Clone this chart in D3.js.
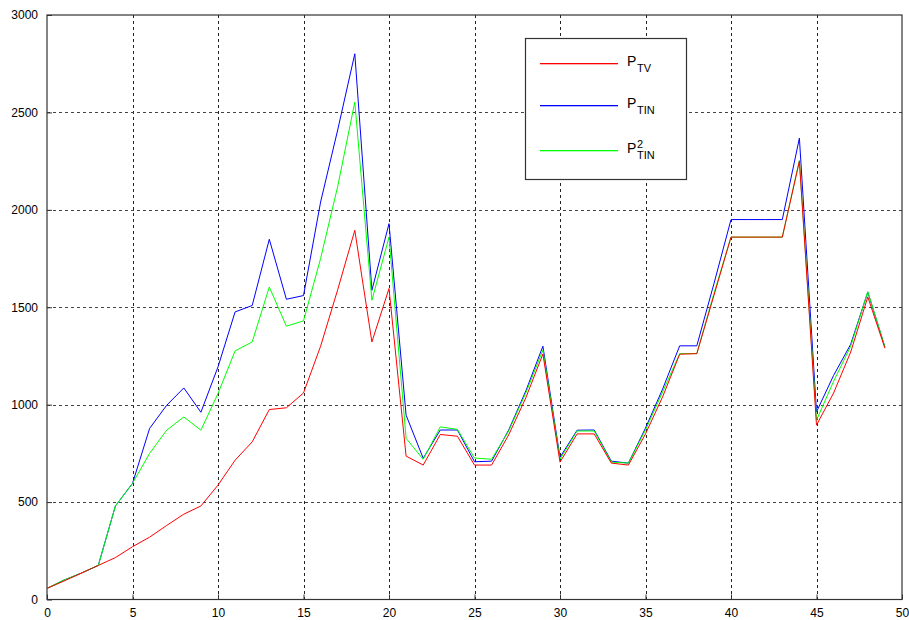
<!DOCTYPE html>
<html>
<head>
<meta charset="utf-8">
<script src="https://cdn.jsdelivr.net/npm/d3@7"></script>
<style>
  body { margin: 0; background: #fff; }
  svg text { font-family: Arial, "Liberation Sans", sans-serif; }
</style>
</head>
<body>
<svg id="chart"></svg>
<script>
// data, x = 0..49
var xs = d3.range(0, 50);
var pTV = [57, 95, 135, 175, 215, 271, 320, 380, 438, 480,
  587, 715, 809, 975, 984, 1060, 1300, 1590, 1895, 1322,
  1596, 736, 690, 847, 838, 690, 690, 845, 1035, 1260,
  705, 850, 850, 700, 690, 850, 1040, 1259, 1262, 1560,
  1860, 1860, 1860, 1860, 2250, 895, 1060, 1270, 1553, 1290];
var pTIN = [57, 100, 135, 175, 480, 596, 878, 997, 1086, 961,
  1194, 1476, 1509, 1849, 1541, 1560, 2040, 2410, 2801, 1587,
  1929, 946, 725, 870, 870, 707, 710, 870, 1070, 1300,
  730, 869, 870, 710, 700, 880, 1080, 1302, 1302, 1620,
  1950, 1950, 1950, 1950, 2368, 963, 1150, 1310, 1578, 1296];
var pTIN2 = [57, 100, 135, 175, 480, 596, 750, 869, 937, 869,
  1057, 1276, 1322, 1604, 1403, 1430, 1750, 2120, 2553, 1536,
  1860, 827, 720, 886, 873, 726, 720, 865, 1060, 1280,
  720, 865, 865, 705, 700, 870, 1065, 1262, 1262, 1570,
  1860, 1860, 1860, 1860, 2254, 920, 1120, 1300, 1580, 1296];
var xTicks = [0, 5, 10, 15, 20, 25, 30, 35, 40, 45, 50];
var yTicks = [0, 500, 1000, 1500, 2000, 2500, 3000];

var W = 909, H = 620;
var margin = { top: 15, right: 7, bottom: 20.5, left: 47 };
var width = W - margin.left - margin.right,
    height = H - margin.top - margin.bottom;

var svg = d3.select("#chart").attr("width", W).attr("height", H);
var g = svg.append("g").attr("transform", "translate(" + margin.left + "," + margin.top + ")");

var x = d3.scaleLinear().domain([0, 50]).range([0, width]);
var y = d3.scaleLinear().domain([0, 3000]).range([height, 0]);

// grid
g.selectAll(".vgrid").data(xTicks.slice(1, -1)).enter().append("line")
  .attr("x1", function(d) { return Math.round(x(d)) + 0.5; })
  .attr("x2", function(d) { return Math.round(x(d)) + 0.5; })
  .attr("y1", 0).attr("y2", height)
  .attr("stroke", "#222").attr("stroke-dasharray", "3,3");
g.selectAll(".hgrid").data(yTicks.slice(1, -1)).enter().append("line")
  .attr("y1", function(d) { return Math.round(y(d)) + 0.5; })
  .attr("y2", function(d) { return Math.round(y(d)) + 0.5; })
  .attr("x1", 0).attr("x2", width)
  .attr("stroke", "#444").attr("stroke-dasharray", "3,3");

// axes, ticks inside like matlab
var xAxis = g.append("g").attr("transform", "translate(0," + height + ")")
  .call(d3.axisBottom(x).tickValues(xTicks).tickFormat(d3.format("d"))
    .tickSizeInner(-5).tickSizeOuter(0).tickPadding(9));
var yAxis = g.append("g")
  .call(d3.axisLeft(y).tickValues(yTicks).tickFormat(d3.format("d"))
    .tickSizeInner(-5).tickSizeOuter(0).tickPadding(9));
[xAxis, yAxis].forEach(function(a) {
  a.select(".domain").remove();
  a.selectAll("line").attr("stroke", "#333");
  a.selectAll("text").attr("font-size", 12).attr("fill", "#000")
    .attr("font-family", "Arial, 'Liberation Sans', sans-serif");
});

g.append("rect").attr("x", 0).attr("y", 0).attr("width", width).attr("height", height)
  .attr("fill", "none").attr("stroke", "#333").attr("stroke-width", 1.2);

var line = d3.line()
  .x(function(d, i) { return x(xs[i]); })
  .y(function(d) { return y(d); });

var series = [
  { vals: pTIN, color: "#0000ff" },
  { vals: pTIN2, color: "#00ff00" },
  { vals: pTV, color: "#ff0000" }
];
g.selectAll(".series").data(series).enter().append("path")
  .attr("d", function(s) { return line(s.vals); })
  .attr("fill", "none")
  .attr("stroke", function(s) { return s.color; })
  .attr("stroke-width", 1);

// legend
var legendItems = [
  { color: "#ff0000", sub: "TV", sup: null, yy: 25 },
  { color: "#0000ff", sub: "TIN", sup: null, yy: 67 },
  { color: "#00ff00", sub: "TIN", sup: "2", yy: 112 }
];
var leg = svg.append("g").attr("transform", "translate(525,38)");
leg.append("rect").attr("x", 0.5).attr("y", 0.5).attr("width", 161).attr("height", 141)
  .attr("fill", "#fff").attr("stroke", "#333").attr("stroke-width", 1.2);
leg.selectAll(".key").data(legendItems).enter().append("rect")
  .attr("x", 15).attr("y", function(d) { return d.yy; })
  .attr("width", 78).attr("height", 1.3)
  .style("fill", function(d) { return d.color; });
legendItems.forEach(function(it) {
  leg.append("text").attr("x", 102).attr("y", it.yy + 3)
    .attr("font-size", 14).attr("fill", "#000").text("P");
  if (it.sup) {
    leg.append("text").attr("x", 112).attr("y", it.yy - 2)
      .attr("font-size", 11).text(it.sup);
  }
  leg.append("text").attr("x", 112).attr("y", it.yy + 9)
    .attr("font-size", 11).text(it.sub);
});
</script>
</body>
</html>
